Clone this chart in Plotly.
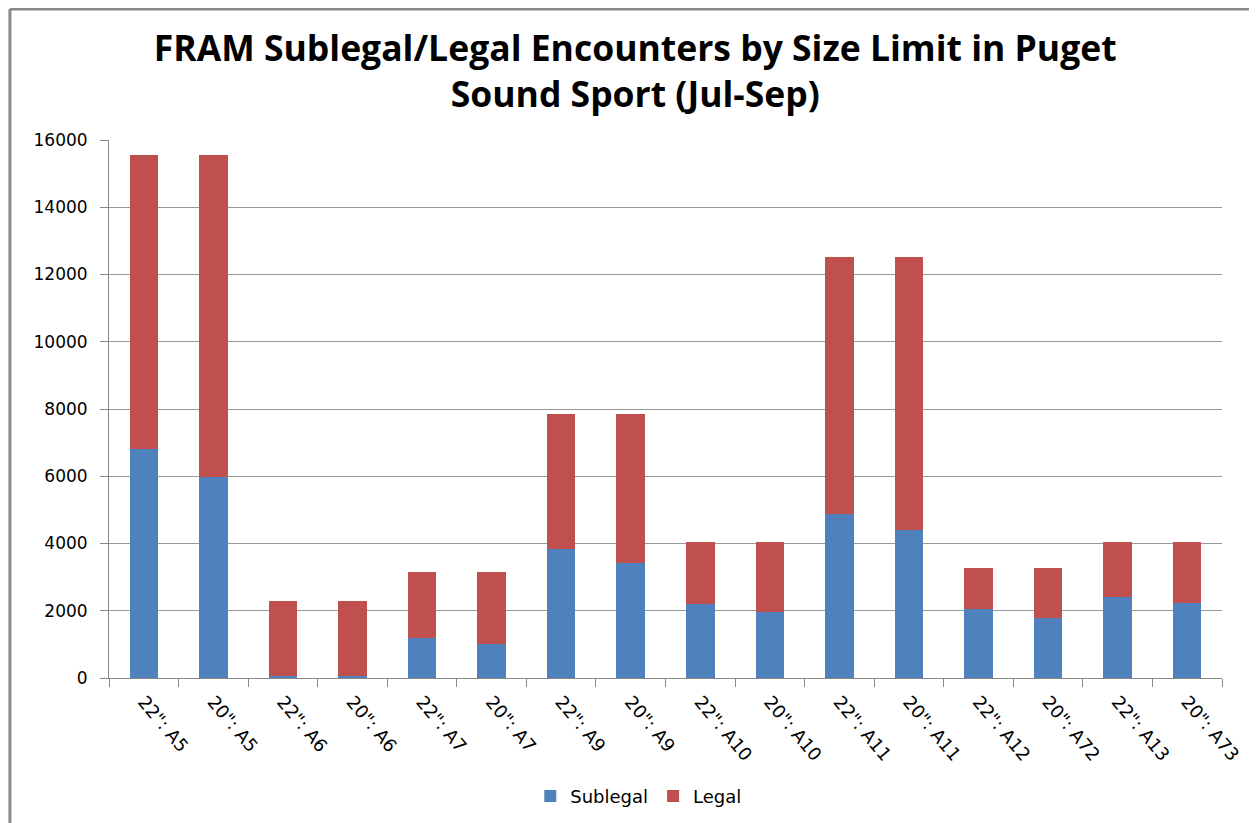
import plotly.graph_objects as go

# values
categories = ['22": A5', '20": A5', '22": A6', '20": A6', '22": A7', '20": A7',
              '22": A9', '20": A9', '22": A10', '20": A10', '22": A11', '20": A11',
              '22": A12', '20": A72', '22": A13', '20": A73']
totals = [15550, 15550, 2280, 2280, 3160, 3160, 7840, 7840,
          4040, 4040, 12530, 12530, 3270, 3270, 4040, 4040]
sublegal = [6800, 5970, 70, 70, 1190, 1010, 3840, 3410,
            2210, 1970, 4880, 4410, 2060, 1770, 2410, 2230]
legal = [t - s for t, s in zip(totals, sublegal)]

fig = go.Figure()

fig.add_trace(
    go.Bar(
        x=categories,
        y=sublegal,
        name='Sublegal',
        marker_color='#4F81BD',
        marker_line_width=0,
    )
)

fig.add_trace(
    go.Bar(
        x=categories,
        y=legal,
        name='Legal',
        marker_color='#C0504D',
        marker_line_width=0,
    )
)

# the page body adds 8px on top/left, margins are trimmed by that
fig.update_layout(
    barmode='stack',
    bargap=0.59,
    width=1257,
    height=823,
    paper_bgcolor='white',
    plot_bgcolor='white',
    margin=dict(l=101, r=43, t=132, b=153),
    font=dict(family='DejaVu Sans', size=16, color='#000000'),
    title=dict(
        text='FRAM Sublegal/Legal Encounters by Size Limit in Puget<br>Sound Sport (Jul-Sep)',
        x=0.499,
        xanchor='center',
        y=0.936,
        yanchor='middle',
        font=dict(family='Open Sans', size=35.5, color='#000000', weight='bold'),
    ),
    legend=dict(
        orientation='h',
        x=0.476,
        xanchor='center',
        y=-0.22,
        yanchor='middle',
        font=dict(family='DejaVu Sans', size=18),
        traceorder='normal',
        itemwidth=30,
    ),
    shapes=[
        dict(type='line', xref='paper', yref='paper', x0=-0.089, x1=1.05,
             y0=1.2435, y1=1.2435, line=dict(color='#888888', width=3)),
        dict(type='line', xref='paper', yref='paper', x0=-0.089, x1=-0.089,
             y0=-0.3, y1=1.2435, line=dict(color='#888888', width=3)),
    ],
)

fig.update_xaxes(
    type='category',
    tickangle=50,
    tickson='boundaries',
    ticks='outside',
    ticklen=8,
    tickcolor='#888888',
    ticklabelstandoff=5,
    showline=True,
    linecolor='#888888',
    linewidth=1,
    showgrid=False,
    tickfont=dict(family='DejaVu Sans', size=18),
)

fig.update_yaxes(
    range=[0, 16000],
    dtick=2000,
    tickformat='d',
    ticks='outside',
    ticklen=8,
    tickcolor='#888888',
    ticklabelstandoff=9,
    showline=True,
    linecolor='#888888',
    linewidth=1,
    showgrid=True,
    gridcolor='#999999',
    gridwidth=1,
    zeroline=False,
    tickfont=dict(family='DejaVu Sans', size=17),
)

fig.write_html("out.html")
